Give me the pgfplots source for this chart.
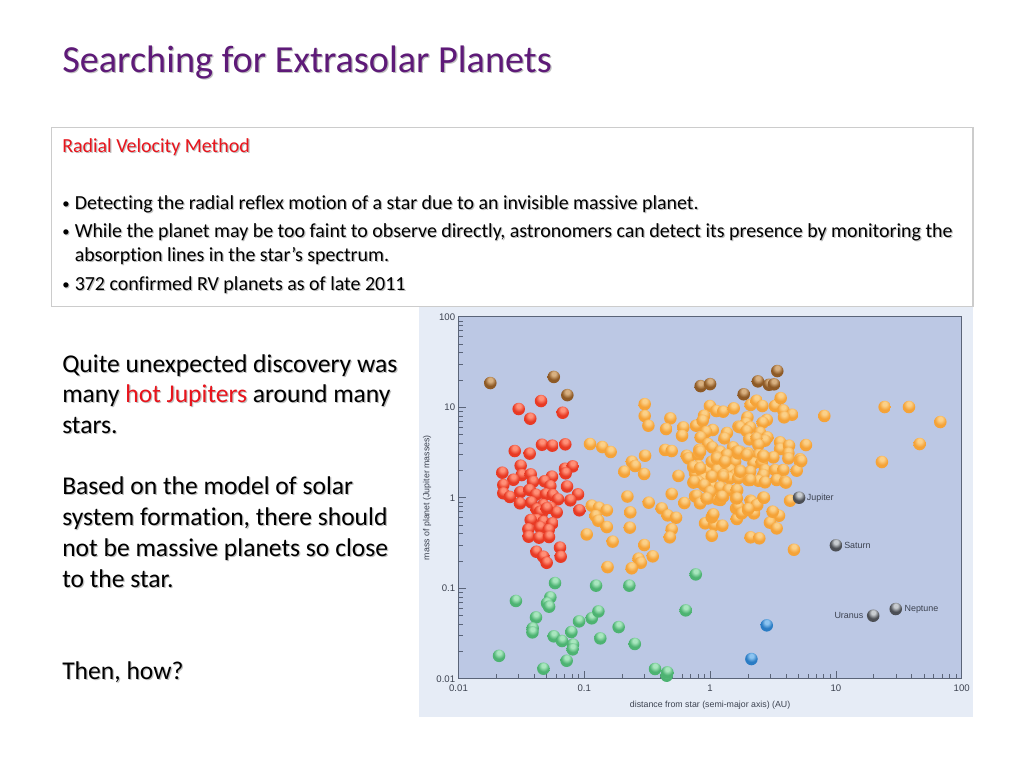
\documentclass[border=0pt]{standalone}
\usepackage{fontspec}
\setmainfont{Carlito}
\newfontfamily\labelfont{Liberation Sans}
\usepackage{pgfplots}
\usepackage{pgfplotstable}
\pgfplotsset{compat=1.18}

\definecolor{titlepurple}{HTML}{5E1A78}
\definecolor{hotred}{HTML}{E8141C}
\definecolor{panelblue}{HTML}{E6ECF6}
\definecolor{plotblue}{HTML}{BCC8E4}
\definecolor{axisgrey}{HTML}{5A6478}
\definecolor{labelgrey}{HTML}{3C4250}

% sphere marks: highlight, body, rim
\newcommand{\defball}[4]{%
  \pgfdeclareradialshading{#1shade}{\pgfpoint{0bp}{14bp}}{%
    color(0bp)=(#2); color(8bp)=(#2); color(22bp)=(#3); color(42bp)=(#3); color(60bp)=(#4); color(100bp)=(#4)}%
  \pgfdeclareplotmark{#1}{\pgfscope\pgfpathcircle{\pgfpointorigin}{\pgfplotmarksize}\pgfshadepath{#1shade}{0}\pgfusepath{discard}\endpgfscope}}
\definecolor{oH}{HTML}{FBD088}\definecolor{oM}{HTML}{F5A338}\definecolor{oR}{HTML}{EC9634}
\definecolor{rH}{HTML}{FF9078}\definecolor{rM}{HTML}{E83A24}\definecolor{rR}{HTML}{C22C1C}
\definecolor{gH}{HTML}{A8E6BE}\definecolor{gM}{HTML}{4DB372}\definecolor{gR}{HTML}{3C9C66}
\definecolor{bH}{HTML}{8CC4F0}\definecolor{bM}{HTML}{2A7CC4}\definecolor{bR}{HTML}{1C5C9C}
\definecolor{nH}{HTML}{D8B080}\definecolor{nM}{HTML}{8E5A26}\definecolor{nR}{HTML}{6A4420}
\definecolor{kH}{HTML}{C8CCD0}\definecolor{kM}{HTML}{4C4F55}\definecolor{kR}{HTML}{16181E}
\defball{orangeball}{oH}{oM}{oR}
\defball{redball}{rH}{rM}{rR}
\defball{greenball}{gH}{gM}{gR}
\defball{blueball}{bH}{bM}{bR}
\defball{brownball}{nH}{nM}{nR}
\defball{darkball}{kH}{kM}{kR}

\pgfplotstableread{
x y
0.0179 18.5
0.0572 21.6
0.0733 13.6
0.841 17.1
1.00 18.0
1.85 13.9
2.40 19.3
2.94 17.7
3.22 17.9
3.42 25.1
}\brownplanets

\pgfplotstableread{
x y
0.0301 9.55
0.0372 7.46
0.0453 11.7
0.0673 8.69
0.0280 3.28
0.0368 3.07
0.0461 3.85
0.0557 3.76
0.0706 3.89
0.0312 2.26
0.0223 1.89
0.0318 1.78
0.0375 1.81
0.0273 1.58
0.0391 1.50
0.0553 1.71
0.0484 1.52
0.0537 1.34
0.0729 1.33
0.0703 2.09
0.0809 2.22
0.0711 1.86
0.0227 1.38
0.0227 1.12
0.0256 1.02
0.0310 1.15
0.0366 1.22
0.0413 1.08
0.0496 1.09
0.0561 1.07
0.0618 0.96
0.0891 1.09
0.0775 0.935
0.0308 0.867
0.0379 0.889
0.0472 0.83
0.0541 0.776
0.0418 0.745
0.0603 0.689
0.0913 0.726
0.0458 0.661
0.0445 0.70
0.0502 0.764
0.0418 0.567
0.0375 0.567
0.0472 0.543
0.0557 0.521
0.0359 0.448
0.0445 0.471
0.0521 0.44
0.0361 0.371
0.0437 0.362
0.0524 0.368
0.0416 0.253
0.0641 0.281
0.0472 0.223
0.0649 0.223
0.0502 0.191
}\redplanets

\pgfplotstableread{
x y
0.0210 0.0179
0.0286 0.0723
0.0585 0.114
0.0537 0.0792
0.0506 0.0681
0.0525 0.0625
0.0413 0.0476
0.0389 0.0360
0.0387 0.0325
0.0572 0.0294
0.0665 0.0261
0.0789 0.0328
0.0908 0.0430
0.1146 0.0465
0.1294 0.0554
0.124 0.1067
0.228 0.1067
0.1875 0.0372
0.134 0.0279
0.0813 0.0238
0.0809 0.0211
0.252 0.0242
0.0724 0.0158
0.0473 0.0129
0.365 0.0128
0.452 0.0108
0.457 0.01175
0.64 0.0569
0.769 0.142
}\greenplanets

\pgfplotstableread{
x y
2.82 0.0389
2.13 0.0165
}\blueplanets

\pgfplotstableread{
x y
5.1 1.0
10.0 0.298
19.8 0.0497
29.9 0.0589
}\solarplanets

\pgfplotstableread{
x y
0.111 3.92
0.139 3.63
0.162 3.20
0.239 2.50
0.253 2.24
0.208 1.94
0.299 1.83
0.304 2.91
0.302 10.8
0.302 8.0
0.323 6.25
0.483 7.53
0.447 5.74
0.612 5.98
0.598 4.84
0.439 3.37
0.495 3.28
0.773 6.25
0.56 1.74
0.22 1.03
0.495 1.10
0.325 0.881
0.624 0.873
0.769 1.03
0.1146 0.817
0.131 0.776
0.151 0.725
0.232 0.689
0.412 0.762
0.652 2.91
0.671 2.72
0.736 2.16
0.736 1.47
0.123 0.628
0.129 0.557
0.151 0.474
0.1045 0.393
0.168 0.327
0.23 0.467
0.46 0.638
0.536 0.601
0.495 0.448
0.478 0.365
0.30 0.30
0.35 0.225
0.27 0.212
0.281 0.191
0.238 0.166
0.153 0.171
0.997 10.3
1.12 9.08
1.27 8.93
1.54 9.71
0.895 8.05
0.873 7.09
1.05 5.6
0.929 5.32
1.36 5.19
1.30 4.53
0.841 4.64
0.962 3.92
1.04 3.6
1.52 3.6
1.20 3.23
1.63 3.23
0.82 3.37
0.805 2.96
1.13 2.79
1.35 2.96
1.68 6.1
2.10 10.6
2.34 11.8
2.60 10.3
3.28 10.3
3.64 12.6
3.82 9.22
4.48 8.26
3.87 7.73
8.09 8.0
1.98 7.73
2.82 7.23
2.62 6.75
1.93 6.64
1.73 6.0
2.08 6.0
1.95 5.46
2.49 5.24
2.85 4.64
2.73 4.27
2.05 4.41
2.34 4.53
2.42 3.82
3.60 4.09
3.60 3.45
4.24 3.76
5.78 3.82
1.73 3.23
2.01 3.09
2.42 2.96
2.65 2.89
3.18 2.79
4.19 3.09
4.19 2.72
5.19 2.66
0.912 0.521
1.08 0.499
1.25 0.491
1.03 0.38
1.63 0.582
1.61 0.762
1.61 0.984
0.807 2.24
0.759 1.86
0.857 1.99
0.95 2.02
1.03 2.5
1.16 2.72
1.36 2.96
1.58 2.5
1.27 2.3
1.44 2.02
1.14 2.02
1.03 1.68
0.883 1.64
0.807 1.50
1.27 1.78
1.58 1.78
1.16 1.27
1.03 1.32
0.912 1.35
1.37 1.24
0.759 1.04
0.832 0.881
0.968 0.984
1.03 1.17
1.14 0.96
1.27 1.03
1.21 0.944
1.44 1.64
1.67 3.09
2.01 2.96
2.65 2.91
5.19 2.5
4.88 1.99
2.21 2.4
2.57 2.44
1.73 1.99
2.08 1.94
2.73 2.02
3.28 2.02
3.82 2.02
2.65 1.78
2.01 1.57
2.42 1.54
2.73 1.48
3.38 1.57
3.94 1.50
1.67 1.64
1.64 1.20
1.67 0.796
1.78 0.671
2.10 0.927
2.37 0.83
2.65 1.0
2.01 0.731
2.23 0.671
3.18 0.689
3.53 0.632
2.99 0.53
3.38 0.458
4.32 0.927
2.10 0.365
2.46 0.356
4.0 1.47
5.3 2.55
24.4 10.05
38.1 10.05
67.6 6.86
46.3 3.92
23.2 2.48
4.64 0.266
1.03 0.607
0.736 2.2
0.832 2.11
1.03 1.71
1.27 1.71
1.73 1.94
2.08 1.57
0.745 1.5
0.893 1.38
1.2 1.3
1.40 1.22
1.63 1.22
0.997 1.16
0.782 1.05
0.832 0.867
0.938 0.984
1.24 1.03
1.63 0.984
2.14 0.904
2.34 0.83
2.01 0.75
3.14 0.701
1.06 0.654
2.68 1.0
0.832 3.22
1.67 3.22
1.95 2.96
2.65 2.84
1.13 2.72
1.31 2.5
}\orangeplanets

% text with the slide's soft offset shadow, placed in reference pixels
\newcommand{\hot}[1]{#1}
\newcommand{\slidetext}[4]{%
  \node[anchor=base west,inner sep=0pt,text=black!25] at ({(#1+1.2)*0.75pt},{-(#2+1.2)*0.75pt}) {\def\hot##1{##1}#4};
  \node[anchor=base west,inner sep=0pt,text=#3] at ({#1*0.75pt},{-#2*0.75pt}) {\def\hot##1{\textcolor{hotred}{##1}}#4};}
\newcommand{\boxfont}{\addfontfeatures{Ligatures=NoCommon}\fontsize{14.95pt}{17pt}\selectfont}
\newcommand{\sidefont}{\addfontfeatures{Ligatures=NoCommon}\fontsize{19.2pt}{22pt}\selectfont}
\newcommand{\bulletmark}{\fontsize{11pt}{12pt}\selectfont •}

\begin{document}
\begin{tikzpicture}[x=1pt,y=1pt]
\path[use as bounding box,fill=white] (0,0) rectangle (768,-576);

\fill[panelblue] (419*0.75,-307*0.75) rectangle (973*0.75,-717*0.75);
\draw[black!20,line width=0.9pt,fill=white] (51.5*0.75,-127.5*0.75) rectangle (973*0.75,-306.5*0.75);

\slidetext{62}{72}{titlepurple}{\fontsize{28.7pt}{32pt}\selectfont Searching for Extrasolar Planets}

\slidetext{62}{152}{hotred}{\boxfont Radial Velocity Method}
\slidetext{62}{208}{black}{\bulletmark}
\slidetext{74.5}{209}{black}{\boxfont Detecting the radial reflex motion of a star due to an invisible massive planet.}
\slidetext{62}{236}{black}{\bulletmark}
\slidetext{74.5}{237}{black}{\boxfont While the planet may be too faint to observe directly, astronomers can detect its presence by monitoring the}
\slidetext{74.5}{261}{black}{\boxfont absorption lines in the star’s spectrum.}
\slidetext{62}{289}{black}{\bulletmark}
\slidetext{74.5}{290}{black}{\boxfont 372 confirmed RV planets as of late 2011}

\slidetext{62}{372}{black}{\sidefont Quite unexpected discovery was}
\slidetext{62}{402.5}{black}{\sidefont many \hot{hot Jupiters} around many}
\slidetext{62}{433.5}{black}{\sidefont stars.}
\slidetext{62}{494.5}{black}{\sidefont Based on the model of solar}
\slidetext{62}{525.5}{black}{\sidefont system formation, there should}
\slidetext{62}{556.5}{black}{\sidefont not be massive planets so close}
\slidetext{62}{587.5}{black}{\sidefont to the star.}
\slidetext{62}{679.5}{black}{\sidefont Then, how?}

\begin{axis}[
    at={(343.875pt,-237.525pt)},
    anchor=north west,
    scale only axis,
    width=377.4pt,
    height=271.5pt,
    xmode=log,
    ymode=log,
    xmin=0.01, xmax=100,
    ymin=0.01, ymax=100,
    axis background/.style={fill=plotblue},
    axis line style={axisgrey,line width=0.8pt},
    tick style={axisgrey,line width=0.5pt},
    tick align=inside,
    major tick length=5.5pt,
    minor tick length=3.5pt,
    xtick pos=bottom,
    ytick pos=left,
    xtick={0.01,0.1,1,10,100},
    ytick={0.01,0.1,1,10,100},
    xticklabels={0.01,0.1,1,10,100},
    yticklabels={0.01,0.1,1,10,100},
    tick label style={font=\labelfont\fontsize{7.2pt}{8pt}\selectfont,text=labelgrey},
    xticklabel style={yshift=-1pt},
    yticklabel style={xshift=1pt},
    xlabel={distance from star (semi-major axis) (AU)},
    ylabel={mass of planet (Jupiter masses)},
    label style={font=\labelfont\fontsize{6.6pt}{8pt}\selectfont,text=labelgrey},
    xlabel style={at={(axis description cs:0.5,0)},anchor=north,yshift=-13.5pt},
    ylabel style={at={(axis description cs:0,0.5)},anchor=south,yshift=17pt,rotate=0},
    mark size=4.7pt,
    only marks,
]
\addplot[mark=orangeball] table {\orangeplanets};
\addplot[mark=redball] table {\redplanets};
\addplot[mark=greenball] table {\greenplanets};
\addplot[mark=blueball] table {\blueplanets};
\addplot[mark=brownball] table {\brownplanets};
\addplot[mark=darkball] table {\solarplanets};
\begin{scope}[every node/.style={font=\labelfont\fontsize{6.7pt}{8pt}\selectfont,text=labelgrey,inner sep=0pt}]
\node[anchor=west] at (axis cs:5.85,1.0) {Jupiter};
\node[anchor=west] at (axis cs:11.6,0.298) {Saturn};
\node[anchor=east] at (axis cs:16.6,0.0497) {Uranus};
\node[anchor=west] at (axis cs:35.0,0.0589) {Neptune};
\end{scope}
\end{axis}
\end{tikzpicture}
\end{document}
